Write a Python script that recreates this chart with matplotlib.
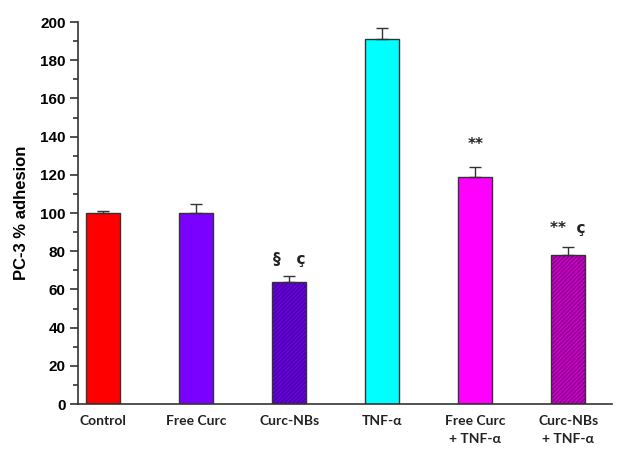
import matplotlib
matplotlib.use("Agg")
import matplotlib.pyplot as plt
from matplotlib.ticker import MultipleLocator

categories = ["Control", "Free Curc", "Curc-NBs", "TNF-\u03b1",
              "Free Curc\n+ TNF-\u03b1", "Curc-NBs\n+ TNF-\u03b1"]
values = [100, 100, 64, 191, 119, 78]
errors = [1, 5, 3, 6, 5, 4]
colors = ["#FF0000", "#7A00FF", "#6A00E6", "#00FFFF", "#FF00FF", "#CC00CC"]
hatches = [None, None, "////////", None, None, "////////"]
hatch_colors = [None, None, "#4A00A0", None, None, "#8A008A"]
annotations = ["", "", "\u00a7   \u00e7", "", "**", "**  \u00e7"]
annot_y = [0, 0, 72, 0, 132, 88]

fig = plt.figure(figsize=(6.2, 4.51), dpi=100)
ax = fig.add_axes([0.126, 0.104, 0.861, 0.847])

x = list(range(len(categories)))
width = 0.37
edge = "#333333"

for i in x:
    if hatches[i]:
        ax.bar(i, values[i], width=width, color=colors[i], edgecolor=hatch_colors[i],
               hatch=hatches[i], linewidth=0, zorder=2)
        ax.bar(i, values[i], width=width, fill=False, edgecolor=edge,
               linewidth=1.0, zorder=3)
    else:
        ax.bar(i, values[i], width=width, color=colors[i], edgecolor=edge,
               linewidth=1.0, zorder=2)
    ax.errorbar(i, values[i], yerr=[[0], [errors[i]]], fmt="none", ecolor=edge,
                elinewidth=1.0, capsize=4, capthick=1.0, zorder=4)
    if annotations[i]:
        ax.text(i, annot_y[i], annotations[i], ha="center", va="bottom",
                fontsize=11, fontweight="bold", family="DejaVu Sans", color="#222222")

ax.set_xlim(-0.27, 5.47)
ax.set_ylim(0, 200)
ax.yaxis.set_major_locator(MultipleLocator(20))
ax.yaxis.set_minor_locator(MultipleLocator(10))

for s in ["top", "right"]:
    ax.spines[s].set_visible(False)
for s in ["left", "bottom"]:
    ax.spines[s].set_color(edge)
    ax.spines[s].set_linewidth(1.2)

ax.tick_params(axis="y", which="major", length=6, width=1.2, color=edge,
               labelsize=11, pad=3)
ax.tick_params(axis="y", which="minor", length=3.5, width=1.2, color=edge)
ax.tick_params(axis="x", length=0, pad=8)
for lab in ax.get_yticklabels():
    lab.set_fontweight("bold")
    lab.set_family("Liberation Sans")

ax.set_xticks(x)
ax.set_xticklabels(categories, fontsize=10, fontweight="bold", family="Lato",
                   linespacing=1.6, color="#222222")

ax.set_ylabel("PC-3 % adhesion", fontsize=12, fontweight="bold",
              family="Liberation Sans", labelpad=8)

fig.savefig("out.png", dpi=100)
